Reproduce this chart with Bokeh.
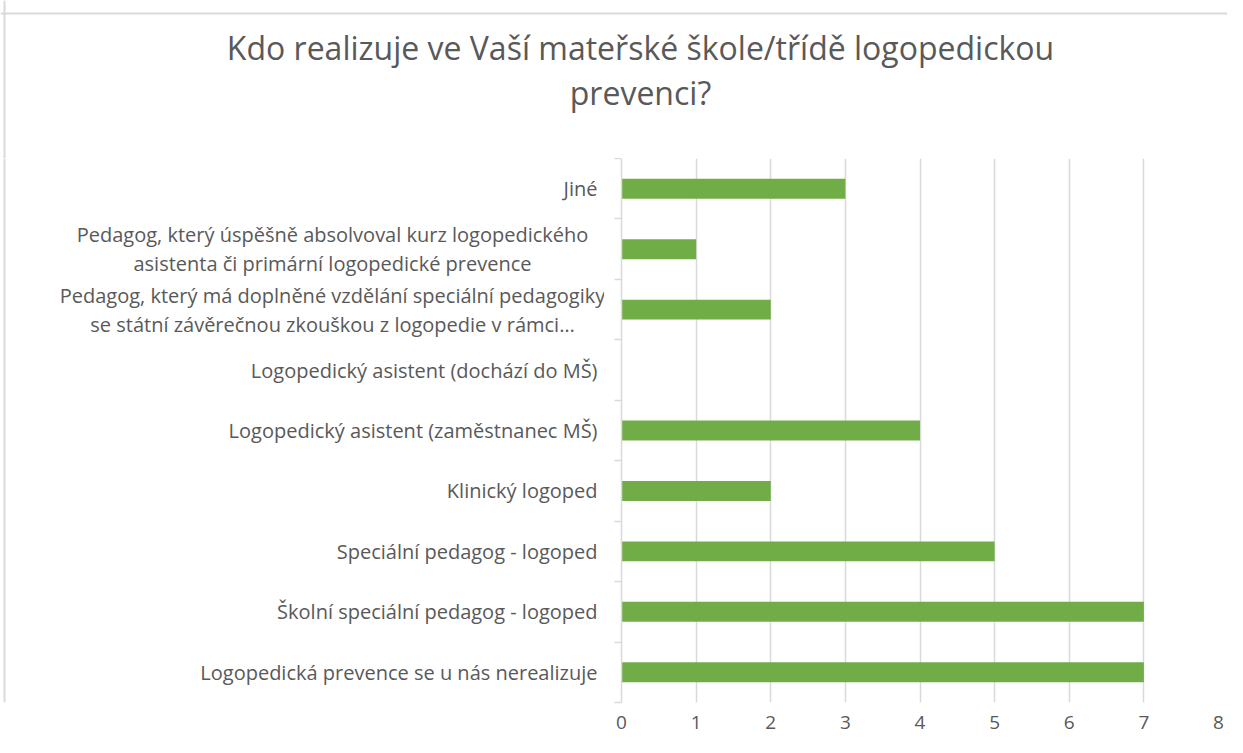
from bokeh.plotting import figure
from bokeh.layouts import column, row
from bokeh.models import FixedTicker, Range1d, Span, ColumnDataSource
from bokeh.embed import file_html
from bokeh.resources import INLINE
from bokeh.core.properties import value

# ---- data (bottom to top) ----
categories = [
    "Logopedická prevence se u nás nerealizuje",
    "Školní speciální pedagog - logoped",
    "Speciální pedagog - logoped",
    "Klinický logoped",
    "Logopedický asistent (zaměstnanec MŠ)",
    "Logopedický asistent (dochází do MŠ)",
    "Pedagog, který má doplněné vzdělání speciální pedagogiky\nse státní závěrečnou zkouškou z logopedie v rámci…",
    "Pedagog, který úspěšně absolvoval kurz logopedického\nasistenta či primární logopedické prevence",
    "Jiné",
]
counts = [7, 7, 5, 2, 4, 0, 2, 1, 3]
x_ticks = [0, 1, 2, 3, 4, 5, 6, 7, 8]
title_lines = ["Kdo realizuje ve Vaší mateřské škole/třídě logopedickou", "prevenci?"]

FONT = "Open Sans"
TXT = "#595959"
GRID = "#D9D9D9"
GREEN = "#70AD47"
W, H = 1227, 737
TITLE_H = 158
LABEL_W = 604
FRAME_BOTTOM_PAD = 35

n = len(categories)
ypos = [i + 0.5 for i in range(n)]
bounds = list(range(n + 1))
yr = Range1d(0, n)

# ---------------- title strip ----------------
t = figure(width=W, height=TITLE_H, output_backend="svg", toolbar_location=None,
           x_range=Range1d(0, W), y_range=Range1d(TITLE_H, 0),
           x_axis_location=None, y_axis_location=None,
           min_border_left=0, min_border_right=0, min_border_top=0, min_border_bottom=0)
t.grid.visible = False
t.outline_line_color = None
t.text(x=[640, 640], y=[47, 92], text=title_lines, text_align="center",
       text_baseline="middle", text_font=value(FONT), text_font_size="32px",
       text_color=TXT)
t.add_layout(Span(location=13, dimension="width", line_color=GRID, line_width=2))
t.add_layout(Span(location=4, dimension="height", line_color=GRID, line_width=2))

# ---------------- category labels ----------------
lab = figure(width=LABEL_W, height=H - TITLE_H, output_backend="svg", toolbar_location=None,
             x_range=Range1d(0, LABEL_W), y_range=yr,
             x_axis_location=None, y_axis_location=None,
             min_border_left=0, min_border_right=0, min_border_top=0,
             min_border_bottom=FRAME_BOTTOM_PAD)
lab.grid.visible = False
lab.outline_line_color = None
multi = ["\n" in c for c in categories]
src = ColumnDataSource(dict(
    y=ypos, text=categories,
    x=[332 if m else 597 for m in multi],
    align=["center" if m else "right" for m in multi],
))
lab.text(x="x", y="y", text="text", text_align="align", source=src,
         text_baseline="middle", text_font=value(FONT), text_font_size="20px",
         text_color=TXT, text_line_height=1.08)
lab.add_layout(Span(location=4, dimension="height", line_color=GRID, line_width=2))

# ---------------- chart ----------------
p = figure(width=W - LABEL_W, height=H - TITLE_H, output_backend="svg", toolbar_location=None,
           x_range=Range1d(0, 8), y_range=yr,
           min_border_left=621 - LABEL_W, min_border_right=W - 1218,
           min_border_top=0, min_border_bottom=FRAME_BOTTOM_PAD)
p.outline_line_color = None

p.hbar(y=ypos, right=counts, left=0, height=0.33, color=GREEN, line_color=None)

p.xaxis.ticker = FixedTicker(ticks=x_ticks)
p.xaxis.axis_line_color = None
p.xaxis.major_tick_line_color = None
p.xaxis.minor_tick_line_color = None
p.xaxis.major_tick_out = 0
p.xaxis.major_label_standoff = 13
p.xaxis.major_label_text_font = FONT
p.xaxis.major_label_text_font_size = "19px"
p.xaxis.major_label_text_color = TXT

# y axis: only boundary tick marks (as minor ticks), no labels
p.yaxis.ticker = FixedTicker(ticks=[], minor_ticks=bounds)
p.yaxis.axis_line_color = GRID
p.yaxis.axis_line_width = 1.5
p.yaxis.major_tick_line_color = None
p.yaxis.minor_tick_line_color = GRID
p.yaxis.minor_tick_line_width = 1.5
p.yaxis.minor_tick_out = 7
p.yaxis.minor_tick_in = 0
p.yaxis.major_label_standoff = 0

p.xgrid.ticker = FixedTicker(ticks=x_ticks[1:])
p.xgrid.grid_line_color = GRID
p.xgrid.grid_line_width = 1.5
p.ygrid.grid_line_color = None

layout = column(t, row(lab, p, spacing=0), spacing=0)
open("out.html", "w").write(file_html(layout, INLINE))
